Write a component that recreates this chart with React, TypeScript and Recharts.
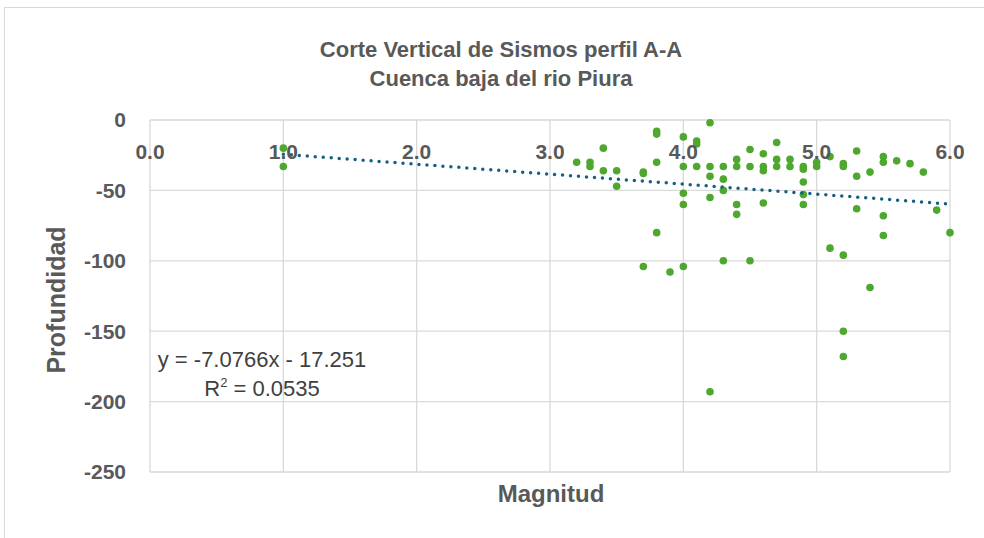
import React from "react"
import { ScatterChart, Scatter, XAxis, YAxis, CartesianGrid } from "recharts"

// magnitude / depth pairs
const magnitudes = [
  1.0, 1.0, 3.2, 3.3, 3.3, 3.4, 3.4, 3.5, 3.5, 3.7, 3.7, 3.7, 3.8, 3.8, 3.8, 3.8, 3.9,
  4.0, 4.0, 4.0, 4.0, 4.0, 4.1, 4.1, 4.1, 4.2, 4.2, 4.2, 4.2, 4.2, 4.3, 4.3, 4.3, 4.3,
  4.4, 4.4, 4.4, 4.4, 4.5, 4.5, 4.5, 4.6, 4.6, 4.6, 4.6, 4.7, 4.7, 4.7, 4.8, 4.8,
  4.9, 4.9, 4.9, 4.9, 4.9, 5.0, 5.0, 5.1, 5.1, 5.2, 5.2, 5.2, 5.2, 5.2, 5.3, 5.3, 5.3,
  5.4, 5.4, 5.5, 5.5, 5.5, 5.5, 5.6, 5.7, 5.8, 5.9, 6.0,
]
const depths = [
  -20, -33, -30, -30, -33, -20, -36, -36, -47, -37, -38, -104, -8, -10, -30, -80, -108,
  -12, -33, -52, -60, -104, -15, -17, -33, -2, -33, -40, -55, -193, -33, -42, -50, -100,
  -28, -33, -60, -67, -21, -33, -100, -24, -33, -36, -59, -16, -28, -33, -28, -33,
  -33, -35, -44, -53, -60, -30, -33, -26, -91, -31, -33, -96, -150, -168, -22, -40, -63,
  -37, -119, -26, -30, -68, -82, -29, -31, -37, -64, -80,
]

const xTicks = [0, 1, 2, 3, 4, 5, 6]
const yTicks = [0, -50, -100, -150, -200, -250]

// linear trendline shown in the chart
const slope = -7.0766
const intercept = -17.251
const trendRange = [1, 6]

const points = magnitudes.map((m, i) => ({ x: m, y: depths[i] }))
const trend = trendRange.map((x) => ({ x, y: slope * x + intercept }))

const textColor = "#595959"
const font = "'Liberation Sans', Arial, sans-serif"

export default function App() {
  return (
    <div style={{ position: "absolute", left: 0, top: 0, width: 984, height: 538, background: "#fff", fontFamily: font }}>
      <div style={{ position: "absolute", left: 4, top: 7, width: 990, height: 540, border: "1px solid #d9d9d9" }} />
      <ScatterChart width={984} height={538} margin={{ top: 120, right: 34, bottom: 66, left: 50 }}>
        <CartesianGrid stroke="#d9d9d9" strokeWidth={1.3} />
        <XAxis
          type="number"
          dataKey="x"
          domain={[0, 6]}
          ticks={xTicks}
          orientation="top"
          mirror
          axisLine={false}
          tickLine={false}
          tickSize={0}
          tickMargin={24}
          tickFormatter={(v: number) => v.toFixed(1)}
          tick={{ fontSize: 21, fontWeight: 700, fill: textColor, fontFamily: font }}
        />
        <YAxis
          type="number"
          dataKey="y"
          domain={[-250, 0]}
          ticks={yTicks}
          width={100}
          axisLine={false}
          tickLine={false}
          tickSize={0}
          tickMargin={24}
          tick={{ fontSize: 21, fontWeight: 700, fill: textColor, fontFamily: font }}
        />
        <Scatter data={points} fill="#4ea72e" isAnimationActive={false} shape={(p: any) => <circle cx={p.cx} cy={p.cy} r={3.8} fill="#4ea72e" />} />
        <Scatter
          data={trend}
          isAnimationActive={false}
          line={{ stroke: "#156082", strokeWidth: 3.5, strokeDasharray: "0 8", strokeLinecap: "round" }}
          shape={() => <g />}
        />
      </ScatterChart>
      <svg width={984} height={538} style={{ position: "absolute", left: 0, top: 0, pointerEvents: "none" }}>
        <text x={501} y={57} textAnchor="middle" fontSize={22} fontWeight={700} fill={textColor} fontFamily={font}>
          Corte Vertical de Sismos perfil A-A
        </text>
        <text x={501} y={86} textAnchor="middle" fontSize={22} fontWeight={700} fill={textColor} fontFamily={font}>
          Cuenca baja del rio Piura
        </text>
        <text x={551} y={502} textAnchor="middle" fontSize={24} fontWeight={700} fill={textColor} fontFamily={font}>
          Magnitud
        </text>
        <text x={65} y={300} textAnchor="middle" fontSize={25} fontWeight={700} fill={textColor} fontFamily={font} transform="rotate(-90 65 300)">
          Profundidad
        </text>
        <text x={262} y={367} textAnchor="middle" fontSize={22} fill="#404040" fontFamily={font}>
          y = -7.0766x - 17.251
        </text>
        <text x={262} y={396} textAnchor="middle" fontSize={22} fill="#404040" fontFamily={font}>
          R<tspan dy={-9} fontSize={13}>2</tspan>
          <tspan dy={9}> = 0.0535</tspan>
        </text>
      </svg>
    </div>
  )
}
